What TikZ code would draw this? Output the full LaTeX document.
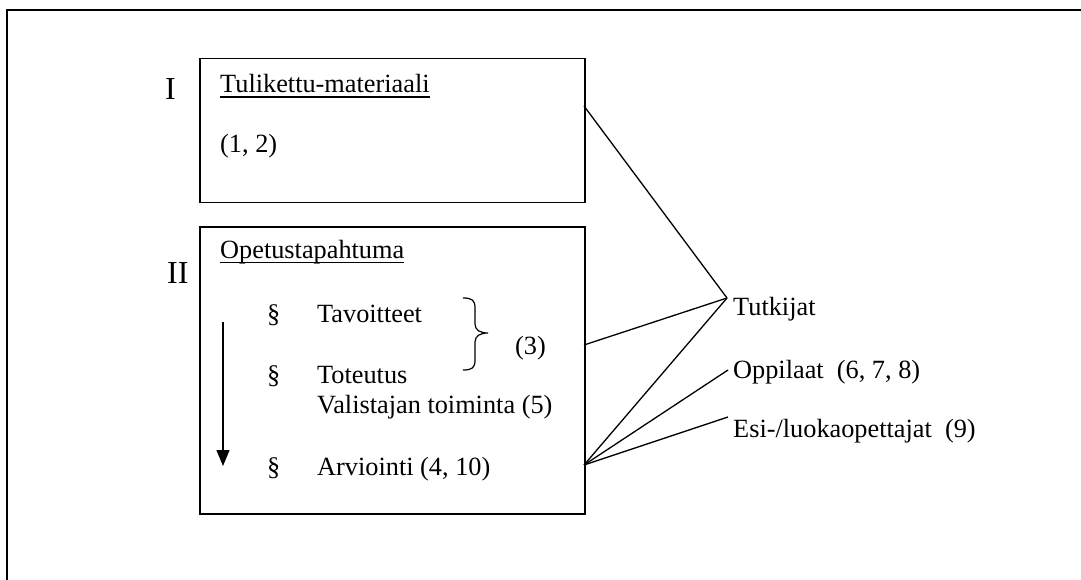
\documentclass[tikz,border=0pt]{standalone}
\usepackage{fontspec}
\setmainfont{Liberation Serif}
\usetikzlibrary{arrows.meta}
\newcommand\myul[1]{\setbox0\hbox{#1}\rlap{\rule[-5pt]{\wd0}{1.5pt}}\box0}
\tikzset{
  txt/.style={anchor=base west, inner sep=0pt, font=\fontsize{26.3}{30}\selectfont},
  roman/.style={anchor=base west, inner sep=0pt, font=\fontsize{32}{36}\selectfont},
  box/.style={draw, line width=1.5pt, anchor=north west, inner sep=0pt},
  conn/.style={line width=1.3pt},
}
\begin{document}
\begin{tikzpicture}[x=1pt,y=-1pt]
\useasboundingbox (0,0) rectangle (1081,580);
\clip (0,0) rectangle (1081,580);
% outer frame (right and bottom edges outside the picture)
\draw[line width=1.8pt] (1090,10) -- (7,10) -- (7,590);

% boxes
\node[box, minimum width=385pt, minimum height=144pt] (boxI) at (199,58) {};
\node[box, minimum width=385pt, minimum height=287pt] (boxII) at (199,226) {};

% labels
\node[roman] (rI) at (165,100) {I};
\node[roman] (rII) at (167,283) {II};

\node[txt] (tm) at (220,93) {\myul{Tulikettu-materiaali}};
\node[txt] (n12) at (220,153) {(1, 2)};

\node[txt] (op) at (220,258) {\myul{Opetustapahtuma}};
\node[txt] (s1) at (267,322) {§};
\node[txt] (tav) at (317,322) {Tavoitteet};
\node[txt] (s2) at (267,383) {§};
\node[txt] (tot) at (317,383) {Toteutus};
\node[txt] (val) at (317,413) {Valistajan toiminta (5)};
\node[txt] (s3) at (267,475) {§};
\node[txt] (arv) at (317,475) {Arviointi (4, 10)};
\node[txt] (n3) at (515,354) {(3)};

% brace
\draw[line width=1.2pt] (463,298) .. controls (472,298) and (475,300) .. (475,308)
  -- (475,324) .. controls (475,330) and (480,333) .. (488,333)
  .. controls (480,333) and (475,336) .. (475,342)
  -- (475,360) .. controls (475,368) and (472,370) .. (463,370);

% timeline arrow
\coordinate (arA) at (223,322);
\coordinate (arB) at (223,466);
\draw[line width=1.3pt, -{Triangle[width=13pt,length=16pt]}] (arA) -- (arB);

% right side labels
\coordinate (tut) at (727,298);
\coordinate (opp) at (728,370);
\coordinate (esi) at (728,417);
\node[txt] (tutL) at (733,315) {Tutkijat};
\node[txt] (oppL) at (733,378) {Oppilaat\ \ (6, 7, 8)};
\node[txt] (esiL) at (733,437) {Esi-/luokaopettajat\ \ (9)};

% connectors
\coordinate (a1) at (584,106);
\coordinate (a2) at (584,345);
\coordinate (a3) at (584,465);
\draw[conn] (a1) -- (tut);
\draw[conn] (a2) -- (tut);
\draw[conn] (a3) -- (tut);
\draw[conn] (a3) -- (opp);
\draw[conn] (a3) -- (esi);
\end{tikzpicture}
\end{document}
